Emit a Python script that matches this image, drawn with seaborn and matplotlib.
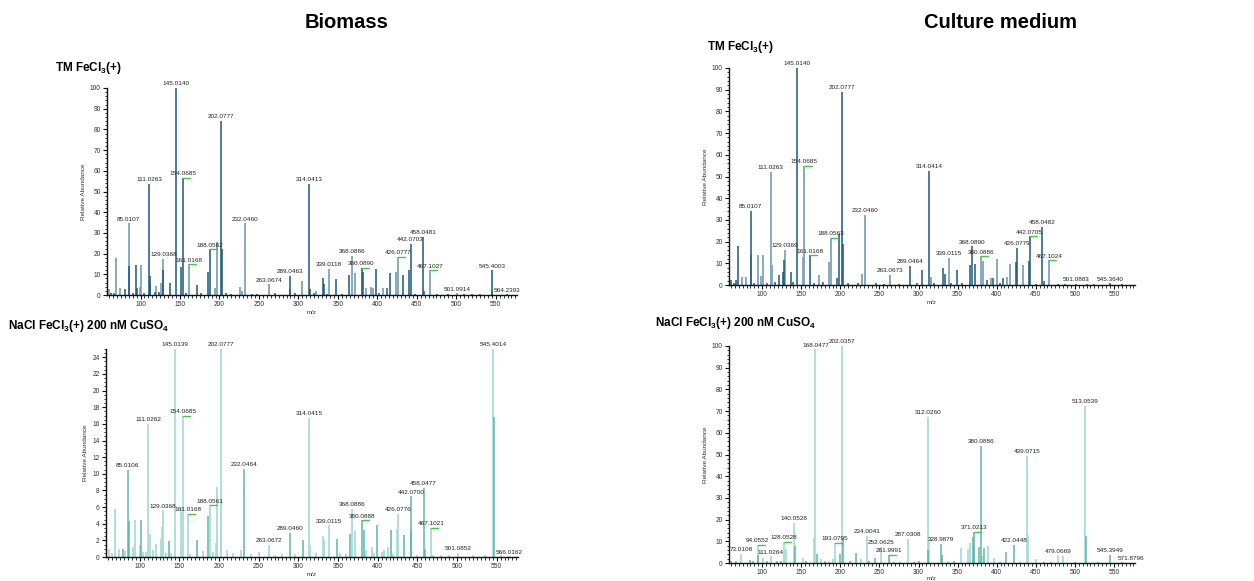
import matplotlib
matplotlib.use("Agg")
import matplotlib.pyplot as plt
from matplotlib.ticker import MultipleLocator
import seaborn as sns
import numpy as np

# ---------------- DATA ----------------
# Panel A: Biomass, TM FeCl3(+)
a_dark_mz = [145.014, 202.0777, 111.0263, 154.0685, 314.0413, 188.0562, 203.08, 289.0463, 380.089,
             442.0703, 458.0481, 545.4003, 79.8, 86.0, 93.7, 94.9, 112.6, 128.2, 136.7, 151.4, 171.6,
             186.0, 315.0, 330.9, 332.6, 347.8, 364.6, 381.5, 398.4, 411.8, 416.0, 432.9, 440.5, 459.0,
             564.2393, 62.0, 105.0, 118.0, 176.0, 241.0, 270.0, 320.0, 355.0, 476.0, 520.0,
             66.0, 90.0, 123.0, 158.0, 208.0, 215.0, 248.0, 296.0, 336.0, 402.0, 448.0, 490.0,
             510.0, 530.0]
a_dark_int = [100, 84.2, 53.7, 56.5, 53.7, 22.0, 22.0, 9.2, 13.0,
              24.8, 28.0, 12.0, 3.0, 14.0, 14.3, 3.5, 9.0, 12.0, 6.0, 13.5, 5.0,
              11.0, 3.0, 8.0, 5.5, 7.5, 9.5, 11.0, 12.5, 3.5, 10.5, 9.5, 12.0, 2.0,
              0.4, 1.0, 1.2, 1.5, 0.8, 0.6, 1.0, 0.8, 0.7, 0.5, 0.4,
              0.9, 1.1, 1.3, 0.9, 1.0, 0.7, 0.6, 0.8, 0.7, 0.9, 0.6, 0.5,
              0.5, 0.4]
a_light_mz = [85.0107, 232.046, 129.0368, 161.0168, 197.3, 263.0674, 339.0118, 368.0886, 426.0777,
              467.1027, 501.0914, 68.8, 60.4, 73.9, 98.7, 100.8, 112.2, 120.2, 126.5, 194.0, 226.4,
              228.5, 304.4, 371.8, 385.7, 392.0, 394.1, 407.6, 423.6, 545.8, 290.0, 322.0]
a_light_int = [34.7, 34.7, 17.4, 14.8, 25.5, 5.2, 12.7, 19.0, 18.5,
               12.0, 0.8, 18.0, 3.0, 3.5, 4.0, 14.3, 6.0, 4.5, 6.0, 3.5, 4.0,
               2.0, 7.0, 10.5, 3.5, 4.0, 3.5, 3.5, 11.0, 2.0, 3.0, 2.0]
a_labels = ["145.0140", "202.0777", "111.0263", "154.0685", "314.0413", "85.0107", "232.0460",
            "129.0368", "188.0562", "161.0168", "263.0674", "289.0463", "339.0118", "368.0886",
            "380.0890", "426.0777", "442.0703", "458.0481", "467.1027", "501.0914", "545.4003",
            "564.2393"]
a_label_int = [100, 84.2, 53.7, 56.5, 53.7, 34.7, 34.7, 17.4, 22.0, 14.8, 5.2, 9.2, 12.7, 19.0,
               13.0, 18.5, 24.8, 28.0, 12.0, 0.8, 12.0, 0.4]
a_marked = ["154.0685", "188.0562", "161.0168", "380.0890", "426.0777", "467.1027"]

# Panel B: Culture medium, TM FeCl3(+)
b_dark_mz = [145.014, 202.0777, 314.0414, 85.0107, 161.0168, 198.0, 203.0, 289.0464, 368.089,
             426.0779, 442.0705, 458.0482, 69.2, 60.6, 66.6, 121.0, 126.0, 128.3, 136.8, 196.0,
             305.0, 331.6, 333.3, 348.7, 365.8, 372.7, 387.2, 395.4, 408.2, 424.9, 441.6, 460.0,
             545.364, 501.0883, 90.0, 116.0, 178.0, 245.0, 275.0, 320.0, 356.0, 478.0, 525.0,
             64.0, 106.0, 140.0, 166.0, 210.0, 222.0, 256.0, 298.0, 342.0, 404.0, 450.0, 488.0,
             515.0, 560.0]
b_dark_int = [100, 89.0, 52.7, 34.3, 13.7, 23.5, 19.0, 8.9, 17.8,
              17.2, 22.4, 26.7, 18.0, 2.5, 2.5, 4.5, 6.0, 11.5, 6.0, 3.0,
              7.0, 8.0, 5.0, 7.0, 9.0, 9.5, 2.5, 3.0, 3.0, 10.5, 11.0, 2.0,
              0.8, 0.6, 1.0, 1.2, 1.4, 0.8, 0.6, 1.0, 0.8, 0.5, 0.4,
              1.0, 1.1, 1.2, 0.9, 1.0, 0.8, 0.6, 0.7, 0.8, 0.9, 0.6, 0.5,
              0.5, 0.4]
b_light_mz = [111.0263, 154.0685, 232.046, 129.0369, 188.0563, 263.0673, 339.0115, 380.0886,
              467.1024, 73.9, 79.0, 85.4, 94.0, 99.0, 101.3, 112.4, 151.8, 172.3, 186.0, 227.1,
              316.0, 383.0, 393.2, 400.1, 412.9, 417.2, 433.5]
b_light_int = [52.0, 54.8, 32.4, 16.3, 21.7, 4.8, 12.4, 13.2,
               11.4, 3.5, 3.5, 14.0, 14.0, 4.0, 14.0, 9.0, 13.0, 4.5, 10.5, 5.0,
               3.5, 11.0, 3.0, 12.0, 3.5, 9.5, 9.0]
b_labels = ["145.0140", "202.0777", "111.0263", "154.0685", "314.0414", "85.0107", "232.0460",
            "129.0369", "188.0563", "161.0168", "263.0673", "289.0464", "339.0115", "368.0890",
            "380.0886", "426.0779", "442.0705", "458.0482", "467.1024", "501.0883", "545.3640"]
b_label_int = [100, 89.0, 52.0, 54.8, 52.7, 34.3, 32.4, 16.3, 21.7, 13.7, 4.8, 8.9, 12.4, 17.8,
               13.2, 17.2, 22.4, 26.7, 11.4, 0.6, 0.8]
b_marked = ["154.0685", "188.0563", "161.0168", "380.0886", "442.0705", "467.1024"]

# Panel C: Biomass, NaCl FeCl3(+) 200 nM CuSO4
c_dark_mz = [85.0106, 232.0464, 289.046, 380.0888, 442.07, 458.0477, 79.0, 86.2, 101.3, 136.8,
             172.0, 186.2, 305.5, 348.9, 365.2, 382.4, 399.7, 416.9, 433.7, 441.6, 459.3, 546.3]
c_dark_int = [10.5, 10.6, 2.9, 4.4, 7.3, 8.3, 1.0, 4.3, 4.5, 1.9,
              2.1, 4.9, 2.0, 2.2, 2.8, 3.3, 3.8, 3.2, 2.6, 3.3, 1.0, 16.8]
c_light_mz = [145.0139, 202.0777, 545.4014, 111.0262, 154.0685, 314.0415, 129.0368, 188.0561,
              161.0168, 198.0, 202.6, 263.0672, 339.0115, 368.0886, 426.0776, 467.1021, 501.0852,
              566.0162, 68.6, 61.0, 73.6, 94.1, 100.0, 112.6, 120.5, 126.4, 128.0, 151.9, 196.2,
              227.3, 315.2, 331.0, 333.0, 372.0, 385.5, 393.0, 408.5, 412.7, 424.1, 92.0, 108.0,
              117.0, 140.0, 180.0, 210.0, 250.0, 280.0, 352.0, 405.0, 480.0,
              65.0, 82.0, 104.0, 133.0, 164.0, 192.0, 218.0, 240.0, 270.0, 296.0, 322.0, 360.0,
              396.0, 420.0, 450.0, 470.0, 490.0, 520.0, 535.0, 555.0]
c_light_int = [25.0, 25.0, 25.0, 16.0, 17.0, 16.7, 5.6, 6.2,
               5.2, 8.4, 6.6, 1.5, 3.8, 5.8, 5.2, 3.5, 0.5,
               0.1, 5.8, 1.0, 1.0, 4.5, 1.5, 2.8, 1.6, 2.2, 3.6, 6.0, 1.7,
               0.8, 1.4, 2.5, 2.1, 3.1, 0.8, 1.2, 0.8, 1.2, 3.4, 1.2, 0.6,
               0.8, 0.5, 0.7, 0.9, 0.6, 0.4, 0.5, 0.6, 0.3,
               0.5, 0.7, 0.6, 0.5, 0.4, 0.6, 0.5, 0.4, 0.3, 0.4, 0.5, 0.4,
               0.5, 0.4, 0.3, 0.3, 0.2, 0.2, 0.2, 0.2]
c_labels = ["145.0139", "202.0777", "545.4014", "111.0262", "154.0685", "314.0415", "85.0106",
            "232.0464", "129.0368", "188.0561", "161.0168", "263.0672", "289.0460", "339.0115",
            "368.0886", "380.0888", "426.0776", "442.0700", "458.0477", "467.1021", "501.0852",
            "566.0162"]
c_label_int = [25.0, 25.0, 25.0, 16.0, 17.0, 16.7, 10.5, 10.6, 5.6, 6.2, 5.2, 1.5, 2.9, 3.8,
               5.8, 4.4, 5.2, 7.3, 8.3, 3.5, 0.5, 0.1]
c_marked = ["154.0685", "188.0561", "161.0168", "380.0888", "467.1021"]

# Panel D: Culture medium, NaCl FeCl3(+) 200 nM CuSO4
d_dark_mz = [380.0886, 261.9991, 328.9879, 371.0213, 422.0448, 545.3949, 169.5, 203.1, 199.3,
             94.9, 141.8, 219.7, 244.4, 312.3, 330.5, 369.7, 377.8, 384.2, 411.4, 513.7,
             571.8796, 60.0, 84.0, 119.0, 180.0, 268.0, 300.0, 345.0, 460.0, 500.0,
             66.0, 88.0, 106.0, 124.0, 156.0, 186.0, 212.0, 236.0, 276.0, 294.0, 338.0, 404.0,
             430.0, 470.0, 530.0, 560.0]
d_dark_int = [54.0, 3.8, 8.9, 14.2, 8.4, 3.8, 4.0, 11.5, 4.0,
              3.5, 8.0, 4.5, 2.5, 6.0, 3.5, 12.0, 7.5, 7.0, 5.0, 12.5,
              0.2, 0.8, 1.5, 1.0, 0.8, 0.6, 0.8, 0.7, 0.5, 0.6,
              0.8, 0.7, 0.9, 0.8, 0.7, 0.6, 0.8, 0.7, 0.6, 0.5, 0.6, 0.5,
              0.5, 0.4, 0.4, 0.3]
d_light_mz = [168.0477, 202.0357, 312.026, 439.0715, 513.0539, 140.0528, 234.0041, 252.0625,
              287.0308, 479.0669, 73.0108, 94.0552, 111.0264, 128.0528, 193.0795, 166.5, 101.3,
              129.8, 151.6, 174.6, 190.8, 227.0, 313.5, 354.8, 362.9, 365.8, 371.4, 381.6, 388.8,
              396.5, 440.0, 450.7, 484.8]
d_light_int = [98.5, 100.0, 67.5, 49.5, 72.4, 18.5, 12.4, 7.3,
               11.2, 3.5, 4.3, 8.4, 3.0, 9.6, 9.2, 11.5, 2.5,
               6.5, 2.5, 2.0, 2.0, 2.0, 10.5, 7.0, 6.5, 9.0, 8.0, 3.0, 8.0,
               2.5, 13.0, 2.0, 3.0]
d_labels = ["168.0477", "202.0357", "312.0260", "380.0886", "439.0715", "513.0539", "140.0528",
            "234.0041", "252.0625", "261.9991", "287.0308", "328.9879", "371.0213", "422.0448",
            "479.0669", "545.3949", "571.8796", "73.0108", "94.0552", "111.0264", "128.0528",
            "193.0795"]
d_label_int = [98.5, 100.0, 67.5, 54.0, 49.5, 72.4, 18.5, 12.4, 7.3, 3.8, 11.2, 8.9, 14.2, 8.4,
               3.5, 3.8, 0.2, 4.3, 8.4, 3.0, 9.6, 9.2]
d_marked = ["94.0552", "128.0528", "193.0795", "261.9991", "371.0213"]

# ---------------- STYLE ----------------
sns.set_theme(style="ticks")
plt.rcParams["font.family"] = ["Liberation Sans", "DejaVu Sans"]
plt.rcParams["text.color"] = "black"
plt.rcParams["mathtext.fontset"] = "custom"
plt.rcParams["mathtext.rm"] = "Liberation Sans:bold"
plt.rcParams["mathtext.bf"] = "Liberation Sans:bold"
plt.rcParams["mathtext.it"] = "Liberation Sans:bold"

fig = plt.figure(figsize=(12.54, 5.81), dpi=100)
fig.patch.set_facecolor("white")

W, H = 1254, 581


def px_axes(left, right, top, bottom):
    return fig.add_axes([left / W, 1 - bottom / H, (right - left) / W, (bottom - top) / H])


panels = [
    dict(box=(107, 517, 88, 295), dark=(a_dark_mz, a_dark_int), light=(a_light_mz, a_light_int),
         labels=a_labels, lint=a_label_int, marked=a_marked, ymax=100, ymaj=10, ymin=2,
         cdark="#1b5877", clight="#7da5b8", xlpad=1),
    dict(box=(729, 1135, 68, 285), dark=(b_dark_mz, b_dark_int), light=(b_light_mz, b_light_int),
         labels=b_labels, lint=b_label_int, marked=b_marked, ymax=100, ymaj=10, ymin=2,
         cdark="#1b5877", clight="#7da5b8", xlpad=1),
    dict(box=(106, 518, 349, 557), dark=(c_dark_mz, c_dark_int), light=(c_light_mz, c_light_int),
         labels=c_labels, lint=c_label_int, marked=c_marked, ymax=25, ymaj=2, ymin=0.5,
         cdark="#5db7a7", clight="#a9dcd5", xlpad=1),
    dict(box=(729, 1135, 346, 563), dark=(d_dark_mz, d_dark_int), light=(d_light_mz, d_light_int),
         labels=d_labels, lint=d_label_int, marked=d_marked, ymax=100, ymaj=10, ymin=2,
         cdark="#5db7a7", clight="#a9dcd5", xlpad=-0.5),
]

for p in panels:
    ax = px_axes(*p["box"])
    ax.set_facecolor("white")
    lmz, lint = p["light"]
    dmz, dint = p["dark"]
    ax.vlines(lmz, 0, lint, color=p["clight"], linewidth=1.3)
    ax.vlines(dmz, 0, dint, color=p["cdark"], linewidth=1.1)
    ymax = p["ymax"]
    for lab, h in zip(p["labels"], p["lint"]):
        x = float(lab)
        ax.text(x, h + ymax * 0.008, lab, ha="center", va="bottom", fontsize=4.6,
                color="#222222", clip_on=False)
        if lab in p["marked"]:
            ax.plot([x, x + 9], [h, h], color="#44c844", linewidth=1.0, clip_on=False)
    ax.set_xlim(57.5, 577)
    ax.set_ylim(0, ymax)
    ax.xaxis.set_major_locator(MultipleLocator(50))
    ax.xaxis.set_minor_locator(MultipleLocator(5))
    ax.yaxis.set_major_locator(MultipleLocator(p["ymaj"]))
    ax.yaxis.set_minor_locator(MultipleLocator(p["ymin"]))
    ax.set_xticks([t for t in range(100, 551, 50)])
    ax.tick_params(axis="both", which="major", labelsize=4.8, length=3, width=0.8, pad=1.5,
                   colors="#111111", labelcolor="#333333")
    ax.tick_params(axis="both", which="minor", length=1.8, width=0.6, colors="#111111")
    sns.despine(ax=ax)
    for s in ("left", "bottom"):
        ax.spines[s].set_linewidth(1.0)
        ax.spines[s].set_color("#111111")
    ax.set_xlabel("m/z", fontsize=4.4, labelpad=p["xlpad"], color="#333333")
    ax.set_ylabel("Relative Abundance", fontsize=4.6, labelpad=3, color="#333333")

# column titles
fig.text(347 / W, 1 - 22 / H, "Biomass", ha="center", va="center", fontsize=14.5,
         fontweight="bold", color="black")
fig.text(1000 / W, 1 - 22 / H, "Culture medium", ha="center", va="center", fontsize=14.5,
         fontweight="bold", color="black")

# panel subtitles
sub_tm = r"TM FeCl$_{3}$(+)"
sub_na = r"NaCl FeCl$_{3}$(+) 200 nM CuSO$_{4}$"
fig.text(55 / W, 1 - 68 / H, sub_tm, ha="left", va="center", fontsize=8.5, fontweight="bold",
         color="black")
fig.text(707 / W, 1 - 47 / H, sub_tm, ha="left", va="center", fontsize=8.5, fontweight="bold",
         color="black")
fig.text(8 / W, 1 - 326 / H, sub_na, ha="left", va="center", fontsize=8.5, fontweight="bold",
         color="black")
fig.text(655 / W, 1 - 323 / H, sub_na, ha="left", va="center", fontsize=8.5, fontweight="bold",
         color="black")

fig.savefig("out.png", dpi=100, facecolor="white")
